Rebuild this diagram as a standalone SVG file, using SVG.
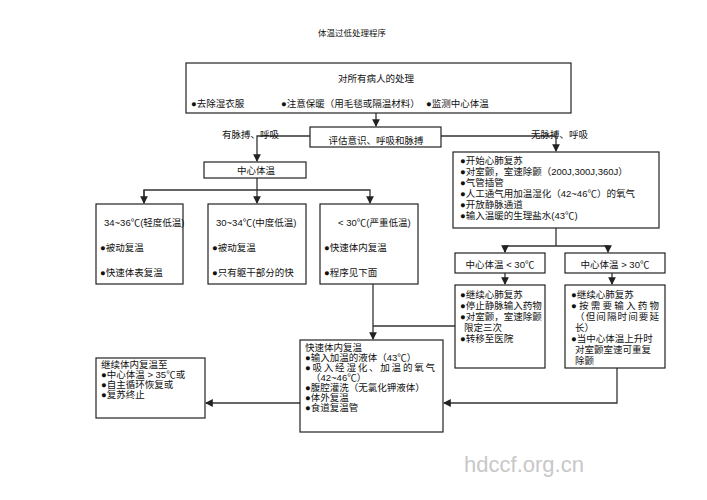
<svg xmlns="http://www.w3.org/2000/svg" width="707" height="500" viewBox="0 0 707 500">
<defs>
<style>
text{font-family:"Liberation Sans","Noto Sans CJK SC",sans-serif;font-size:9.5px;fill:#111}
.b{fill:#fff;stroke:#222;stroke-width:1.2}
.l{fill:none;stroke:#333;stroke-width:1.3}
.m{text-anchor:middle}
</style>
<marker id="a" viewBox="0 0 8 8" refX="7" refY="4" markerWidth="6" markerHeight="6" orient="auto"><path d="M0,0L8,4L0,8z" fill="#222"/></marker>
</defs>
<rect width="707" height="500" fill="#fff"/>
<text x="352" y="36" class="m" style="font-size:8.5px">体温过低处理程序</text>
<g id="connectors">
<path class="l" d="M376,113V126" marker-end="url(#a)"/>
<path class="l" d="M310,136H257V161" marker-end="url(#a)"/>
<path class="l" d="M441,136H556V151" marker-end="url(#a)"/>
<path class="l" d="M257,178V203" marker-end="url(#a)"/>
<path class="l" d="M144,203V190H370V203" marker-end="url(#a)"/>
<path class="l" d="M144,190V203" marker-end="url(#a)"/>
<path class="l" d="M556,228V246" />
<path class="l" d="M505,252V246H608V252" marker-end="url(#a)"/>
<path class="l" d="M505,246V252" marker-end="url(#a)"/>
<path class="l" d="M505,273V284" marker-end="url(#a)"/>
<path class="l" d="M612,273V284" marker-end="url(#a)"/>
<path class="l" d="M373,284V339" marker-end="url(#a)"/>
<path class="l" d="M455,326H373"/>
<path class="l" d="M617,368V403H444" marker-end="url(#a)"/>
<path class="l" d="M300,403H206" marker-end="url(#a)"/>
</g>
<g id="n-all"><rect class="b" x="186" y="63" width="385" height="50"/>
<text x="376" y="82" class="m">对所有病人的处理</text>
<text x="191" y="107">●去除湿衣服</text><text x="281" y="107">●注意保暖（用毛毯或隔温材料）</text><text x="426" y="107">●监测中心体温</text></g>
<g id="n-eval"><rect class="b" x="310" y="127" width="131" height="20"/><text x="376" y="144" class="m">评估意识、呼吸和脉搏</text></g>
<text x="222" y="138">有脉搏、呼吸</text>
<text x="531" y="138">无脉搏、呼吸</text>
<g id="n-core"><rect class="b" x="204" y="162" width="102" height="16"/><text x="256" y="174" class="m">中心体温</text></g>
<g id="n-mild"><rect class="b" x="96" y="204" width="87" height="80"/><text x="104" y="226">34~36℃(轻度低温)</text><text x="100" y="251">●被动复温</text><text x="100" y="276">●快速体表复温</text></g>
<g id="n-mod"><rect class="b" x="208" y="204" width="98" height="80"/><text x="216" y="226">30~34℃(中度低温)</text><text x="212" y="251">●被动复温</text><text x="212" y="276">●只有躯干部分的快</text></g>
<g id="n-sev"><rect class="b" x="320" y="204" width="98" height="80"/><text x="338" y="226">&lt; 30℃(严重低温)</text><text x="324" y="251">●快速体内复温</text><text x="324" y="276">●程序见下面</text></g>
<g id="n-cpr"><rect class="b" x="453" y="152" width="206" height="76"/>
<text x="460" y="164">●开始心肺复苏</text><text x="460" y="175">●对室颤，室速除颤（200J,300J,360J）</text><text x="460" y="186">●气管插管</text><text x="460" y="197">●人工通气用加温湿化（42~46℃）的氧气</text><text x="460" y="208">●开放静脉通道</text><text x="460" y="219">●输入温暖的生理盐水(43℃)</text></g>
<g id="n-lt30"><rect class="b" x="455" y="253" width="90" height="20"/><text x="500" y="268" class="m">中心体温 &lt; 30℃</text></g>
<g id="n-gt30"><rect class="b" x="565" y="253" width="100" height="20"/><text x="615" y="268" class="m">中心体温 &gt; 30℃</text></g>
<g id="n-lt30b"><rect class="b" x="455" y="285" width="90" height="83"/><text x="460" y="298">●继续心肺复苏</text><text x="460" y="309">●停止静脉输入药物</text><text x="460" y="320">●对室颤，室速除颤</text><text x="464" y="331">限定三次</text><text x="460" y="342">●转移至医院</text></g>
<g id="n-gt30b"><rect class="b" x="565" y="285" width="100" height="83"/><text x="571" y="298">●继续心肺复苏</text><text x="571" y="309" textLength="88">●按需要输入药物</text><text x="575" y="320" textLength="84">（但间隔时间要延</text><text x="575" y="331">长）</text><text x="571" y="342">●当中心体温上升时</text><text x="575" y="353">对室颤室速可重复</text><text x="575" y="364">除颤</text></g>
<g id="n-rapid"><rect class="b" x="300" y="340" width="143" height="92"/><text x="305" y="351">快速体内复温</text><text x="305" y="361">●输入加温的液体（43℃）</text><text x="305" y="371" textLength="130">●吸入经湿化、加温的氧气</text><text x="311" y="381">（42~46℃）</text><text x="305" y="391">●腹腔灌洗（无氯化钾液体）</text><text x="305" y="401">●体外复温</text><text x="305" y="411">●食道复温管</text></g>
<g id="n-cont"><rect class="b" x="96" y="358" width="109" height="60"/><text x="101" y="368">继续体内复温至</text><text x="101" y="378">●中心体温 &gt; 35℃或</text><text x="101" y="388">●自主循环恢复或</text><text x="101" y="398">●复苏终止</text></g>
<text x="524" y="472" class="m" style="font-size:22px;fill:#c8c8c8">hdccf.org.cn</text>
</svg>
